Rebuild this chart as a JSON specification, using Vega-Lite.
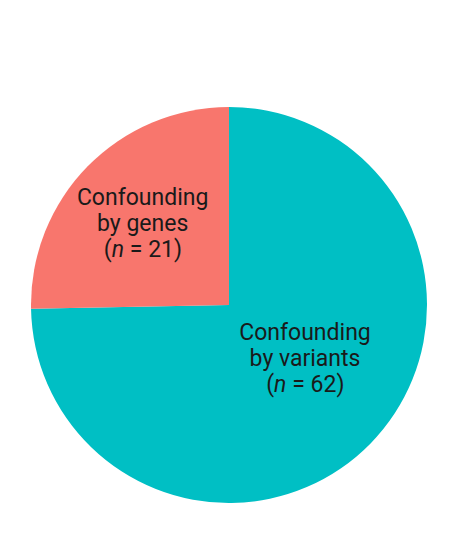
{
  "$schema": "https://vega.github.io/schema/vega-lite/v6.json",
  "width": 396,
  "height": 396,
  "padding": {"left": 31, "top": 107, "right": 0, "bottom": 0},
  "background": "white",
  "view": {"stroke": null},
  "data": {
    "values": [
      {"group": "Confounding by variants", "n": 62, "lines": ["Confounding", "by variants"], "rest": "= 62)"},
      {"group": "Confounding by genes", "n": 21, "lines": ["Confounding", "by genes"], "rest": "= 21)"}
    ]
  },
  "encoding": {
    "theta": {"field": "n", "type": "quantitative", "stack": true},
    "order": {"field": "n", "type": "quantitative", "sort": "descending"}
  },
  "layer": [
    {
      "mark": {"type": "arc", "radius": 198},
      "encoding": {
        "color": {
          "field": "group",
          "type": "nominal",
          "scale": {"domain": ["Confounding by variants", "Confounding by genes"], "range": ["#00BFC4", "#F8766D"]},
          "legend": null
        }
      }
    },
    {
      "mark": {"type": "text", "radius": 121, "font": "Roboto", "fontSize": 23, "fill": "#1a1a1a", "align": "center", "baseline": "alphabetic", "dy": -15, "lineHeight": 26},
      "encoding": {"text": {"condition": {"test": "datum.group === 'Confounding by genes'", "field": "lines"}, "value": ""}}
    },
    {
      "mark": {"type": "text", "radius": 121, "font": "Roboto", "fontSize": 23, "fill": "#1a1a1a", "align": "right", "baseline": "alphabetic", "dy": 37, "dx": -31},
      "encoding": {"text": {"condition": {"test": "datum.group === 'Confounding by genes'", "value": "("}, "value": ""}}
    },
    {
      "mark": {"type": "text", "radius": 121, "font": "Roboto", "fontSize": 23, "fontStyle": "italic", "fill": "#1a1a1a", "align": "left", "baseline": "alphabetic", "dy": 37, "dx": -31},
      "encoding": {"text": {"condition": {"test": "datum.group === 'Confounding by genes'", "value": "n"}, "value": ""}}
    },
    {
      "mark": {"type": "text", "radius": 121, "font": "Roboto", "fontSize": 23, "fill": "#1a1a1a", "align": "left", "baseline": "alphabetic", "dy": 37, "dx": -12.8},
      "encoding": {"text": {"condition": {"test": "datum.group === 'Confounding by genes'", "field": "rest"}, "value": ""}}
    },
    {
      "mark": {"type": "text", "radius": 106.5, "font": "Roboto", "fontSize": 23, "fill": "#1a1a1a", "align": "center", "baseline": "alphabetic", "dy": -40, "lineHeight": 26},
      "encoding": {"text": {"condition": {"test": "datum.group === 'Confounding by variants'", "field": "lines"}, "value": ""}}
    },
    {
      "mark": {"type": "text", "radius": 106.5, "font": "Roboto", "fontSize": 23, "fill": "#1a1a1a", "align": "right", "baseline": "alphabetic", "dy": 12, "dx": -31},
      "encoding": {"text": {"condition": {"test": "datum.group === 'Confounding by variants'", "value": "("}, "value": ""}}
    },
    {
      "mark": {"type": "text", "radius": 106.5, "font": "Roboto", "fontSize": 23, "fontStyle": "italic", "fill": "#1a1a1a", "align": "left", "baseline": "alphabetic", "dy": 12, "dx": -31},
      "encoding": {"text": {"condition": {"test": "datum.group === 'Confounding by variants'", "value": "n"}, "value": ""}}
    },
    {
      "mark": {"type": "text", "radius": 106.5, "font": "Roboto", "fontSize": 23, "fill": "#1a1a1a", "align": "left", "baseline": "alphabetic", "dy": 12, "dx": -12.8},
      "encoding": {"text": {"condition": {"test": "datum.group === 'Confounding by variants'", "field": "rest"}, "value": ""}}
    }
  ]
}
